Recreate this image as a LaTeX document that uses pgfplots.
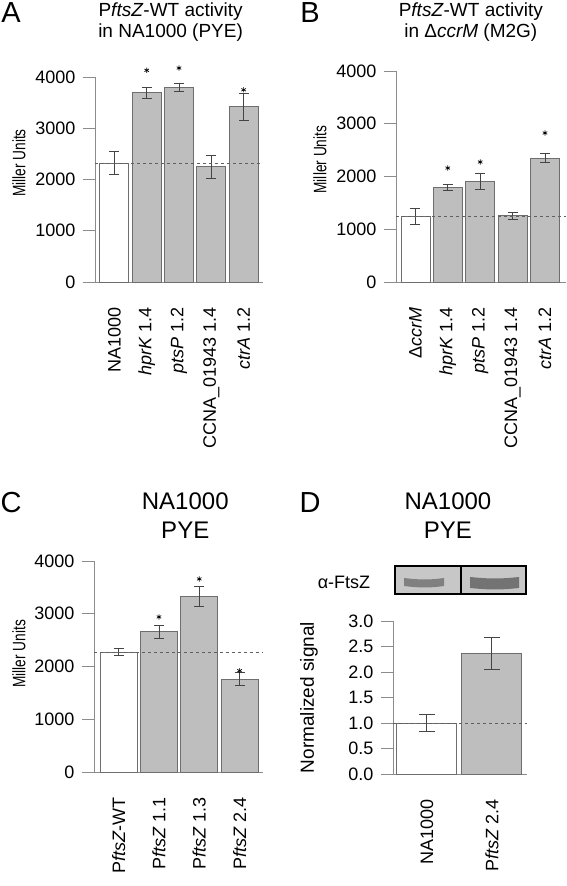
\documentclass[border=0pt]{standalone}
\usepackage{pgfplots}
\pgfplotsset{compat=1.18}
\usepackage{fontspec}
\setmainfont{Liberation Sans}
\definecolor{axgray}{HTML}{8C8C8C}
\definecolor{barfill}{HTML}{BEBEBE}
\definecolor{baredge}{HTML}{6E6E6E}
\definecolor{errc}{HTML}{444444}
\definecolor{dashc}{HTML}{606060}
\newcommand{\fs}[1]{\fontsize{#1}{#1}\selectfont}
\pgfplotsset{
  panel/.style={
    scale only axis, anchor=south west, clip=false,
    axis x line*=bottom, axis y line*=left,
    axis line style={draw=axgray, line width=0.9pt, -},
    x axis line style={shorten <=-12pt},
    ymin=0,
    ybar, bar shift=0pt,
    xtick style={draw=none},
    ytick style={draw=axgray, line width=0.9pt},
    tick align=outside, major tick length=12pt,
    /pgf/number format/assume math mode=true,
    /pgf/number format/1000 sep={},
    yticklabel style={xshift=-4pt, font=\fs{18}},
    xticklabel style={rotate=90, anchor=east, inner sep=0pt, xshift=-13pt, font=\fs{18}},
    every axis y label/.style={rotate=90, anchor=center, font=\fs{18}},
    title style={align=center, anchor=center},
  },
  ctrl/.style={fill=white, draw=baredge, line width=0.8pt,
    error bars/.cd, y dir=both, y explicit,
    error bar style={draw=errc, line width=0.8pt},
    error mark options={rotate=90, draw=errc, line width=0.8pt, mark size=#1}},
  test/.style={fill=barfill, draw=baredge, line width=0.8pt,
    error bars/.cd, y dir=both, y explicit,
    error bar style={draw=errc, line width=0.8pt},
    error mark options={rotate=90, draw=errc, line width=0.8pt, mark size=#1}},
  ref/.style={sharp plot, draw=dashc, dashed, line width=0.8pt, forget plot},
  stars/.style={only marks, mark=asterisk, mark size=2.6pt, mark options={draw=black, line width=0.7pt}},
}
\begin{document}
\begin{tikzpicture}[x=1pt,y=1pt]
\path[use as bounding box] (0,0) rectangle (566,886);

% ---------- Panel A ----------
\node[font=\fs{29}, anchor=base, inner sep=0pt] at (11,863) {A};
\begin{axis}[panel, at={(95pt,604pt)}, width=168pt, height=205pt,
  xmin=-0.6, xmax=4.6, ymax=4000, ytick={0,1000,2000,3000,4000},
  bar width=29pt,
  xtick={0,1,2,3,4},
  xticklabels={NA1000,{\textit{hprK} 1.4},{\textit{ptsP} 1.2},{CCNA\_01943 1.4},{\textit{ctrA} 1.2}},
  ylabel={\scalebox{0.76}[1]{Miller Units}},
  every axis y label/.append style={at={(axis description cs:0,0.58)}, yshift=76pt},
  title={P\textit{ftsZ}-WT activity\\in NA1000 (PYE)},
  title style={at={(axis description cs:0.45,1)}, yshift=48.5pt, font=\fontsize{19}{21}\selectfont},
]
\addplot[ctrl=5pt] coordinates {(0,2320) +- (0,220)};
\addplot[test=5pt] coordinates {(1,3690) +- (0,100) (2,3800) +- (0,80) (3,2250) +- (0,220) (4,3420) +- (0,260)};
\addplot[ref] coordinates {(-0.6,2320) (4.6,2320)};
\addplot[stars] coordinates {(1,4130) (2,4175) (4,3750)};
\end{axis}

% ---------- Panel B ----------
\node[font=\fs{29}, anchor=base, inner sep=0pt] at (310,863) {B};
\begin{axis}[panel, at={(396pt,604pt)}, width=170pt, height=211pt,
  xmin=-0.6, xmax=4.65, ymax=4000, ytick={0,1000,2000,3000,4000},
  bar width=29pt,
  xtick={0,1,2,3,4},
  xticklabels={{Δ\textit{ccrM}},{\textit{hprK} 1.4},{\textit{ptsP} 1.2},{CCNA\_01943 1.4},{\textit{ctrA} 1.2}},
  ylabel={\scalebox{0.76}[1]{Miller Units}},
  every axis y label/.append style={at={(axis description cs:0,0.58)}, yshift=76pt},
  title={P\textit{ftsZ}-WT activity\\in Δ\textit{ccrM} (M2G)},
  title style={at={(axis description cs:0.44,1)}, yshift=42.5pt, font=\fontsize{19}{21}\selectfont},
]
\addplot[ctrl=5pt] coordinates {(0,1240) +- (0,150)};
\addplot[test=5pt] coordinates {(1,1790) +- (0,60) (2,1900) +- (0,150) (3,1255) +- (0,60) (4,2350) +- (0,90)};
\addplot[ref] coordinates {(-0.6,1240) (4.65,1240)};
\addplot[stars] coordinates {(1,2160) (2,2275) (4,2825)};
\end{axis}

% ---------- Panel C ----------
\node[font=\fs{29}, anchor=base, inner sep=0pt] at (11,373) {C};
\begin{axis}[panel, at={(94pt,114pt)}, width=169pt, height=211pt,
  xmin=-0.61, xmax=3.58, ymax=4000, ytick={0,1000,2000,3000,4000},
  bar width=37pt,
  xtick={0,1,2,3},
  xticklabels={{P\textit{ftsZ}-WT},{P\textit{ftsZ} 1.1},{P\textit{ftsZ} 1.3},{P\textit{ftsZ} 2.4}},
  ylabel={\scalebox{0.76}[1]{Miller Units}},
  every axis y label/.append style={at={(axis description cs:0,0.56)}, yshift=75pt},
  title={NA1000\\PYE},
  title style={at={(axis description cs:0.54,1)}, yshift=39.5pt, font=\fontsize{24}{29}\selectfont},
]
\addplot[ctrl=5pt] coordinates {(0,2270) +- (0,65)};
\addplot[test=5pt] coordinates {(1,2660) +- (0,120) (2,3336) +- (0,190) (3,1763) +- (0,125)};
\addplot[ref] coordinates {(-0.61,2270) (3.58,2270)};
\addplot[stars] coordinates {(1,2940) (2,3660) (3,1920)};
\end{axis}

% ---------- Panel D ----------
\node[font=\fs{29}, anchor=base, inner sep=0pt] at (310,373) {D};
% western blot decoration
\node[font=\fs{18}] at (344,304) {α-FtsZ};
\fill[black!22] (395,292) rectangle (526,320);
\fill[black!50] (404,300) .. controls (420,298) and (430,298) .. (444,300) -- (444,308) .. controls (430,306) and (420,306) .. (404,308) -- cycle;
\fill[black!55] (470,298) .. controls (490,296) and (500,296) .. (519,298) -- (519,309) .. controls (500,307) and (490,307) .. (470,309) -- cycle;
\draw[black, line width=2pt] (395,292) rectangle (526,320);
\draw[black, line width=2pt] (461,292) -- (461,320);
\begin{axis}[panel, at={(393pt,112pt)}, width=134pt, height=153pt,
  xmin=-0.52, xmax=1.54, ymax=3, ytick={0,0.5,1,1.5,2,2.5,3},
  yticklabel style={/pgf/number format/.cd, fixed, fixed zerofill, precision=1},
  bar width=60pt,
  xtick={0,1},
  xticklabels={NA1000,{P\textit{ftsZ} 2.4}},
  ylabel={Normalized signal},
  every axis y label/.append style={at={(axis description cs:0,0.5)}, yshift=84pt, font=\fs{19}},
  title={NA1000\\PYE},
  title style={at={(axis description cs:0.41,1)}, yshift=99.5pt, font=\fontsize{24}{29}\selectfont},
]
\addplot[ctrl=8pt] coordinates {(0,1.0) +- (0,0.16)};
\addplot[test=8pt] coordinates {(1,2.37) +- (0,0.31)};
\addplot[ref] coordinates {(-0.52,1.0) (1.54,1.0)};
\end{axis}
\end{tikzpicture}
\end{document}
